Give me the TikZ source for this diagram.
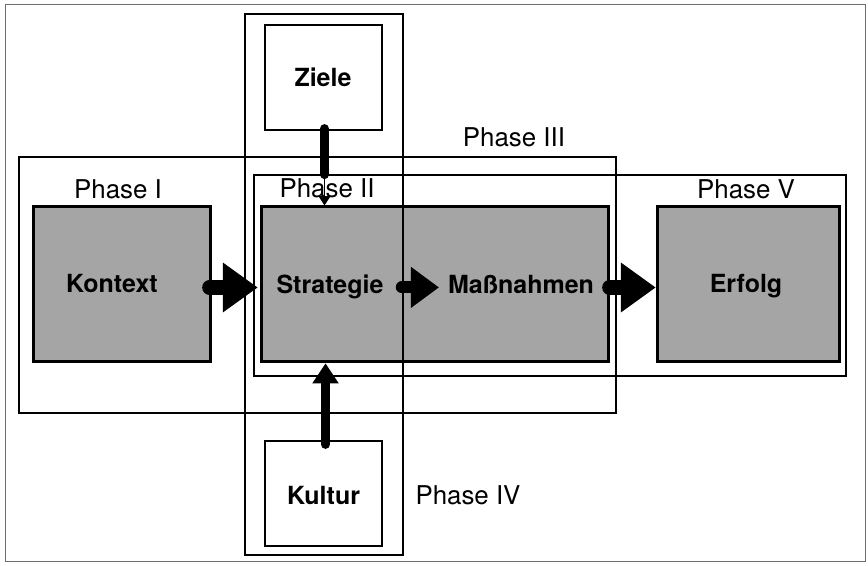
\documentclass[tikz,border=0pt]{standalone}
\usepackage{fontspec}
\setmainfont{TeX Gyre Heros}
\usetikzlibrary{arrows.meta,calc,fit}
\definecolor{boxgray}{RGB}{165,165,165}
\definecolor{framegray}{RGB}{110,110,110}
\begin{document}
\begin{tikzpicture}[x=0.75pt,y=-0.75pt,
  lbl/.style={font=\fontsize{19.4}{21}\selectfont, anchor=base, inner sep=0pt},
  blbl/.style={font=\fontsize{18.75}{20}\selectfont\bfseries, anchor=base, inner sep=0pt},
  graybox/.style={draw=black, fill=boxgray, line width=2.25pt, inner sep=0pt},
  whitebox/.style={draw=black, line width=0.9pt, inner sep=0pt},
  phasebox/.style={draw=black, line width=1.9pt, inner sep=0pt},
  harrow/.style={line width=11pt, line cap=round,
    -{Triangle[length=26pt,width=37.5pt,line width=0pt]}},
  marrow/.style={line width=9pt, line cap=round,
    -{Triangle[length=21pt,width=31pt,line width=0pt]}},
  varrow/.style={line width=6.75pt, line cap=round,
    -{Triangle[length=15pt,width=20pt,line width=0pt]}},
  vbar/.style={line width=6.75pt, line cap=round},
  thinarrow/.style={line width=0.75pt,
    -{Triangle[length=7pt,width=9pt,line width=0pt]}}
]
\useasboundingbox (0,0) rectangle (868,566);
\fill[white] (0,0) rectangle (868,566);
\draw[framegray, line width=0.75pt] (5,5) rectangle (865,561);

% gray boxes
\node[graybox, fit={(33,207) (210,362)}] (kontext) {};
\node[graybox, fit={(261,207) (608,362)}] (sm) {};
\node[graybox, fit={(657,207) (839,362)}] (erfolg) {};

% white boxes
\node[whitebox, fit={(265,25) (382,130)}] (ziele) {};
\node[whitebox, fit={(265,441) (382,546)}] (kultur) {};

% phase frames
\node[phasebox, fit={(19,157) (616,413)}] (p3) {};
\node[phasebox, fit={(245,14) (403,555)}] (p4) {};
\node[whitebox, fit={(254,175) (846,376)}] (p25) {};

% labels
\node[lbl] (lp1) at (118,199) {Phase I};
\node[lbl] (lp2) at (327,198) {Phase II};
\node[lbl] (lp3) at (514,147) {Phase III};
\node[lbl] (lp4) at (468,505) {Phase IV};
\node[lbl] (lp5) at (746,199) {Phase V};

\node[blbl] (tziele) at (323,87) {Ziele};
\node[blbl] (tkultur) at (323.5,505) {Kultur};
\node[blbl] (tkontext) at (112,293) {Kontext};
\node[blbl] (strat) at (330,294) {Strategie};
\node[blbl] (mass) at (521,294) {Maßnahmen};
\node[blbl] (terfolg) at (746,293) {Erfolg};

% horizontal arrows
\draw[harrow] ($(kontext.east)+(-2,3)$) -- ($(sm.west)+(-2,3)$);
\coordinate (m1) at ($(mass.west)+(-9,0)$);
\draw[marrow] ($(strat.east)+(18,0)$) -- (m1 |- strat.east);
\draw[harrow] ($(sm.east)+(0,3)$) -- ($(erfolg.west)+(0,3)$);

% vertical arrows
\coordinate (zb) at ($(ziele.south)+(1,44)$);
\draw[vbar] ($(ziele.south)+(1,-2)$) -- (zb);
\draw[thinarrow] (zb) -- (sm.north -| zb);
\draw[varrow] ($(kultur.north)+(2,4)$) -- ($(sm.south -| kultur.north)+(2,0)$);
\end{tikzpicture}
\end{document}
